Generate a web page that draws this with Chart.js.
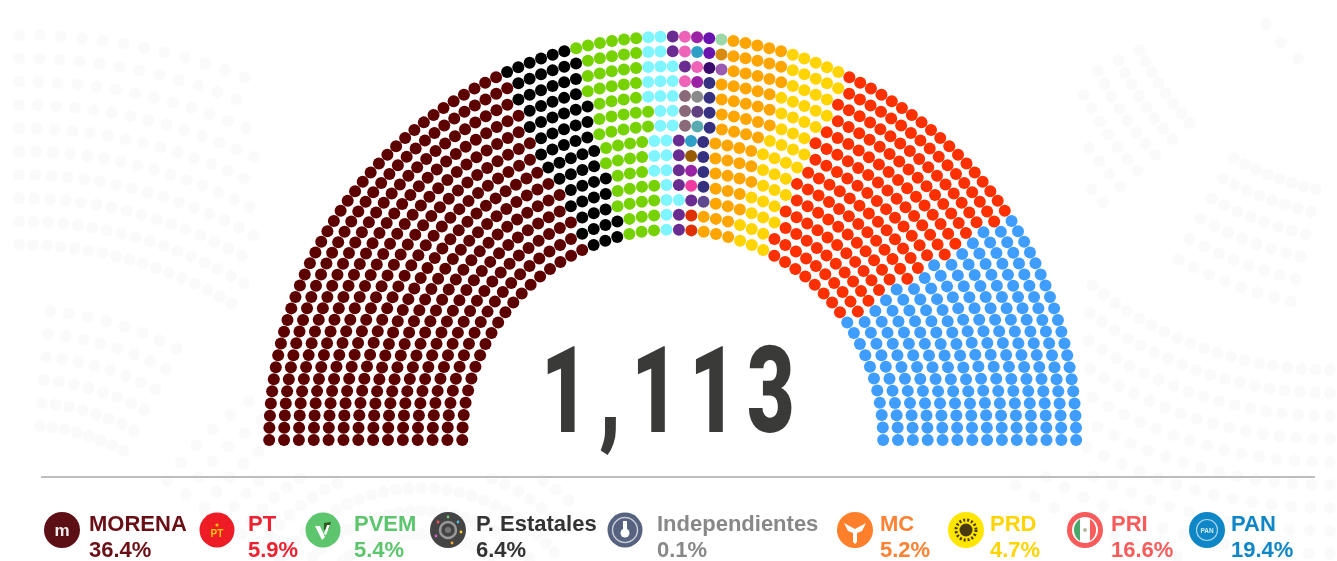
<!DOCTYPE html>
<html lang="es">
<head>
<meta charset="utf-8">
<title>Cámara: 1,113</title>
<script src="https://cdn.jsdelivr.net/npm/chart.js@4"></script>
<style>
html,body{margin:0;padding:0;background:#fff;width:1337px;height:561px;overflow:hidden;font-family:"Liberation Sans",Arial,sans-serif}
#stage{position:relative;width:1337px;height:561px;filter:blur(.45px)}
canvas{position:absolute;left:0;top:0}
#total{position:absolute;left:541px;top:316px;font:900 121px/150px Roboto,"Liberation Sans",sans-serif;color:#3a3a38;letter-spacing:15px;white-space:nowrap;transform:scaleX(.68);transform-origin:0 0}
#rule{position:absolute;left:41px;top:476px;width:1274px;height:1.5px;background:#bdbdbd}
.ico{position:absolute;top:512px;width:36px;height:36px}
.nm,.pc{position:absolute;font-weight:700;font-size:22px;line-height:24px;white-space:nowrap}
.nm{top:512px}.pc{top:538px}
</style>
</head>
<body>
<div id="stage">
<canvas id="c" width="1337" height="561"></canvas>
<div id="total">1,113</div>
<div id="rule"></div>
<div id="legend"></div>
</div>
<script>
// ---- data ----
const totalSeats = "1,113";
const parties = ["MORENA","PT","PVEM","P. Estatales","Independientes","MC","PRD","PRI","PAN"];
const shares  = ["36.4%","5.9%","5.4%","6.4%","0.1%","5.2%","4.7%","16.6%","19.4%"];
const seats   = [405,66,60,71,1,58,52,185,215];
const seatColors = ["#5c0000","#000000","#76d200","#7ff5ff","#9ad8a8","#ffa500","#ffd400","#ff3000","#3f9dff"];
const textColors = ["#6b0f16","#ee2130","#5cc56e","#333333","#888888","#ff8133","#ffd400","#f95a5a","#0f86c6"];
// seats in each row, outermost row first
const rowSeats = [105,101,97,93,89,85,81,78,74,70,66,62,58,54];
// small blocs inside "P. Estatales", per row, reading left to right after the cyan seats
const blocColors = {
  pu:"#6a2c91",pk:"#ee62b8",mg:"#9a22a4",vi:"#6a14b0",tb:"#2ea0c8",nv:"#3a0a6a",lp:"#9a5ab0",
  db:"#35307f",ma:"#8a6a78",gy:"#8a8a8a",dp:"#5f3f80",te:"#5aabb0",br:"#9a5a00",hp:"#f03ca0",
  sl:"#5f4a90",rd:"#e03000",lg:"#9ad8a8",do:"#d98a10"
};
const blocRows = [
  ["pu","pk","mg","vi","lg"],
  ["pu","pk","tb","vi","do"],
  ["pu","pk","nv","lp"],
  ["pk","mg","db"],
  ["ma","gy","db"],
  ["ma","dp","db"],
  ["ma","te","db"],
  ["pu","tb","db"],
  ["pu","br","db"],
  ["pu","mg","db"],
  ["pu","hp","db"],
  ["pu","sl"],
  ["pu","rd"],
  ["pu","rd"]
];

// ---- layout constants (pixels) ----
const cx = 672.7, cy = 440, outerR = 403.5, rowGap = 14.85, dotR = 6;

// ---- seat layout: rows of a half circle, dealt to parties by angle ----
const all = [];
rowSeats.forEach((n,row)=>{
  for(let j=0;j<n;j++) all.push({row,a:Math.PI*j/(n-1),r:outerR-rowGap*row});
});
all.sort((p,q)=>p.a-q.a||q.row-p.row);
const pt = s=>({x:s.r*-Math.cos(s.a),y:s.r*Math.sin(s.a)});
const groups = {};
const push = (col,s)=>{(groups[col]=groups[col]||[]).push(pt(s));};
let k=0;
const bandIdx = 3;                    // P. Estatales + Independientes share the central band
const band = [];
seats.forEach((cnt,i)=>{
  if(i===4) return;
  const take = i===bandIdx ? cnt+seats[4] : cnt;
  for(let c=0;c<take;c++,k++){
    if(i===bandIdx) band.push(all[k]); else push(seatColors[i],all[k]);
  }
});
rowSeats.forEach((_,row)=>{
  const inRow = band.filter(s=>s.row===row).sort((p,q)=>p.a-q.a);
  const list = blocRows[row];
  inRow.forEach((s,i)=>{
    const off = i-(inRow.length-list.length);
    push(off>=0 ? blocColors[list[off]] : seatColors[3], s);
  });
});

// ---- faint decorative backdrop of the original ----
const fans = [
  {x:19,y:660,r0:625,dr:-23.3,rows:10,a0:0,da:.0336,n:17,deg:-1,test:p=>p.x<255},
  {x:20,y:646,r0:336,dr:-23,rows:6,a0:.09,da:.0565,n:8,deg:-1,test:()=>true},
  {x:420,y:660,r0:310,dr:-23,rows:9,a0:-.97,da:.074,n:27,deg:1,test:p=>p.x>130&&p.x<570&&(p.y>478||p.x<262)},
];
const back=[];
fans.forEach(f=>{
  for(let i=0;i<f.rows;i++)for(let j=0;j<f.n;j++){
    const r=f.r0+f.dr*i,a=f.a0+f.da*j;
    const sign=f.deg===-1?1:-1;
    const p={x:f.x+sign*r*Math.sin(a),y:f.y-r*Math.cos(a)};
    if(f.test(p)&&p.y<561&&p.y>14) back.push({x:p.x-cx,y:cy-p.y});
  }
});
// right-hand fans hang from a centre above and to the right of the page
const hang=[
  {x:1423,y:-90,r0:316,rows:6,dr:23.5,a0:26.3,da:2.3,n:8,test:p=>p.x>1082},
  {x:1385,y:-118,r0:315,rows:6,dr:23,a0:61.3,da:2.29,n:8,test:()=>true},
  {x:1423,y:-90,r0:194,rows:1,dr:0,a0:36,da:7,n:3,test:()=>true},
];
hang.forEach(f=>{
  for(let i=0;i<f.rows;i++)for(let j=0;j<f.n;j++){
    const r=f.r0+f.dr*i,a=(f.a0+f.da*j)*Math.PI/180;
    const p={x:f.x-r*Math.cos(a),y:f.y+r*Math.sin(a)};
    if(f.test(p)) back.push({x:p.x-cx,y:cy-p.y});
  }
});
for(let i=0;i<10;i++)for(let j=0;j<28;j++){
  const r=378+23*i,a=.0378*j;
  const p={x:1330-r*Math.sin(a),y:-8+r*Math.cos(a)};
  if(p.y<561&&(p.x>1086||(p.y>468&&p.x>1000)||(p.y>478&&p.x>900))) back.push({x:p.x-cx,y:cy-p.y});
}

const datasets=[{data:back,pointRadius:6,pointBackgroundColor:"#fafafa",pointBorderWidth:0,order:5,showLine:false}];
Object.keys(groups).forEach(col=>{
  datasets.push({data:groups[col],pointRadius:dotR,pointBackgroundColor:col,pointBorderWidth:0,order:1,showLine:false});
});

new Chart(document.getElementById("c"),{
  type:"scatter",
  data:{datasets},
  options:{
    responsive:false,animation:false,
    layout:{padding:0,autoPadding:false},
    plugins:{legend:{display:false},tooltip:{enabled:false},title:{display:false}},
    scales:{
      x:{type:"linear",min:-cx,max:1337-cx,display:false},
      y:{type:"linear",min:cy-561,max:cy,display:false}
    }
  }
});

// ---- legend ----
const iconX=[44,199,305,430,607,837,948,1067,1189];
const textX=[89,248,354,476,657,880,990,1111,1231];
const icons=[
 `<circle cx="18" cy="18" r="18" fill="#5c0f14"/><text x="18" y="23.5" text-anchor="middle" font-size="17" font-weight="700" fill="#eee" font-family="Liberation Sans">m</text>`,
 `<circle cx="18" cy="18" r="17.5" fill="#ee1c25"/><circle cx="18" cy="13" r="1.6" fill="#ffc800"/><text x="18" y="25" text-anchor="middle" font-size="10" font-weight="700" fill="#ffc800" font-family="Liberation Sans">PT</text>`,
 `<circle cx="18" cy="18" r="17.5" fill="#5cc56e"/><path d="M10 14l7 14 3-3-5-11z" fill="#fff"/><path d="M19 11l7-1-2 7-5 1z" fill="#2e5a1e"/><path d="M19 22l3-9 3 0-4 10z" fill="#fff"/>`,
 `<circle cx="18" cy="18" r="18" fill="#444"/><circle cx="18" cy="18" r="8" fill="none" stroke="#999" stroke-width="2.5"/><circle cx="18" cy="18" r="3" fill="#777"/><circle cx="8" cy="10" r="1.4" fill="#e55"/><circle cx="18" cy="5" r="1.4" fill="#7c7"/><circle cx="28" cy="10" r="1.4" fill="#5bd"/><circle cx="31" cy="20" r="1.4" fill="#fc3"/><circle cx="6" cy="24" r="1.4" fill="#c6c"/><circle cx="22" cy="31" r="1.4" fill="#fa3"/>`,
 `<circle cx="18" cy="18" r="17.5" fill="#56627f"/><circle cx="18" cy="18" r="12.5" fill="none" stroke="#c8ccd6" stroke-width="1.5"/><circle cx="18" cy="21" r="4.5" fill="#fff"/><rect x="16" y="9" width="4" height="10" fill="#fff"/>`,
 `<circle cx="18" cy="18" r="18" fill="#ff7f2a"/><path d="M7 11l11 6 11-6-4 8-5 2 0 9-2 2-2-2 0-9-5-2z" fill="#fff"/>`,
 `<circle cx="18" cy="18" r="18" fill="#ffe600"/><circle cx="18" cy="18" r="6.5" fill="#4a3a10"/><circle cx="18" cy="18" r="10" fill="none" stroke="#4a3a10" stroke-width="3" stroke-dasharray="2 2"/>`,
 `<circle cx="18" cy="18" r="18" fill="#f95a5a"/><circle cx="18" cy="18" r="13" fill="#fff"/><path d="M13 7a13 13 0 0 0 0 22z" fill="#4aa76a"/><path d="M23 7a13 13 0 0 1 0 22z" fill="#f95a5a"/><circle cx="18" cy="18" r="2" fill="#b9b9a0"/>`,
 `<circle cx="18" cy="18" r="18" fill="#0f86c6"/><circle cx="18" cy="18" r="10.5" fill="none" stroke="#a8d6ee" stroke-width="1.2"/><text x="18" y="20.5" text-anchor="middle" font-size="6.5" font-weight="700" fill="#d6eefa" font-family="Liberation Sans">PAN</text>`
];
const lg=document.getElementById("legend");
parties.forEach((name,i)=>{
  lg.insertAdjacentHTML("beforeend",
   `<svg class="ico" style="left:${iconX[i]}px" viewBox="0 0 36 36">${icons[i]}</svg>`+
   `<div class="nm" style="left:${textX[i]}px;color:${textColors[i]}">${name}</div>`+
   `<div class="pc" style="left:${textX[i]}px;color:${textColors[i]}">${shares[i]}</div>`);
});
document.getElementById("total").textContent=totalSeats;
</script>
</body>
</html>
